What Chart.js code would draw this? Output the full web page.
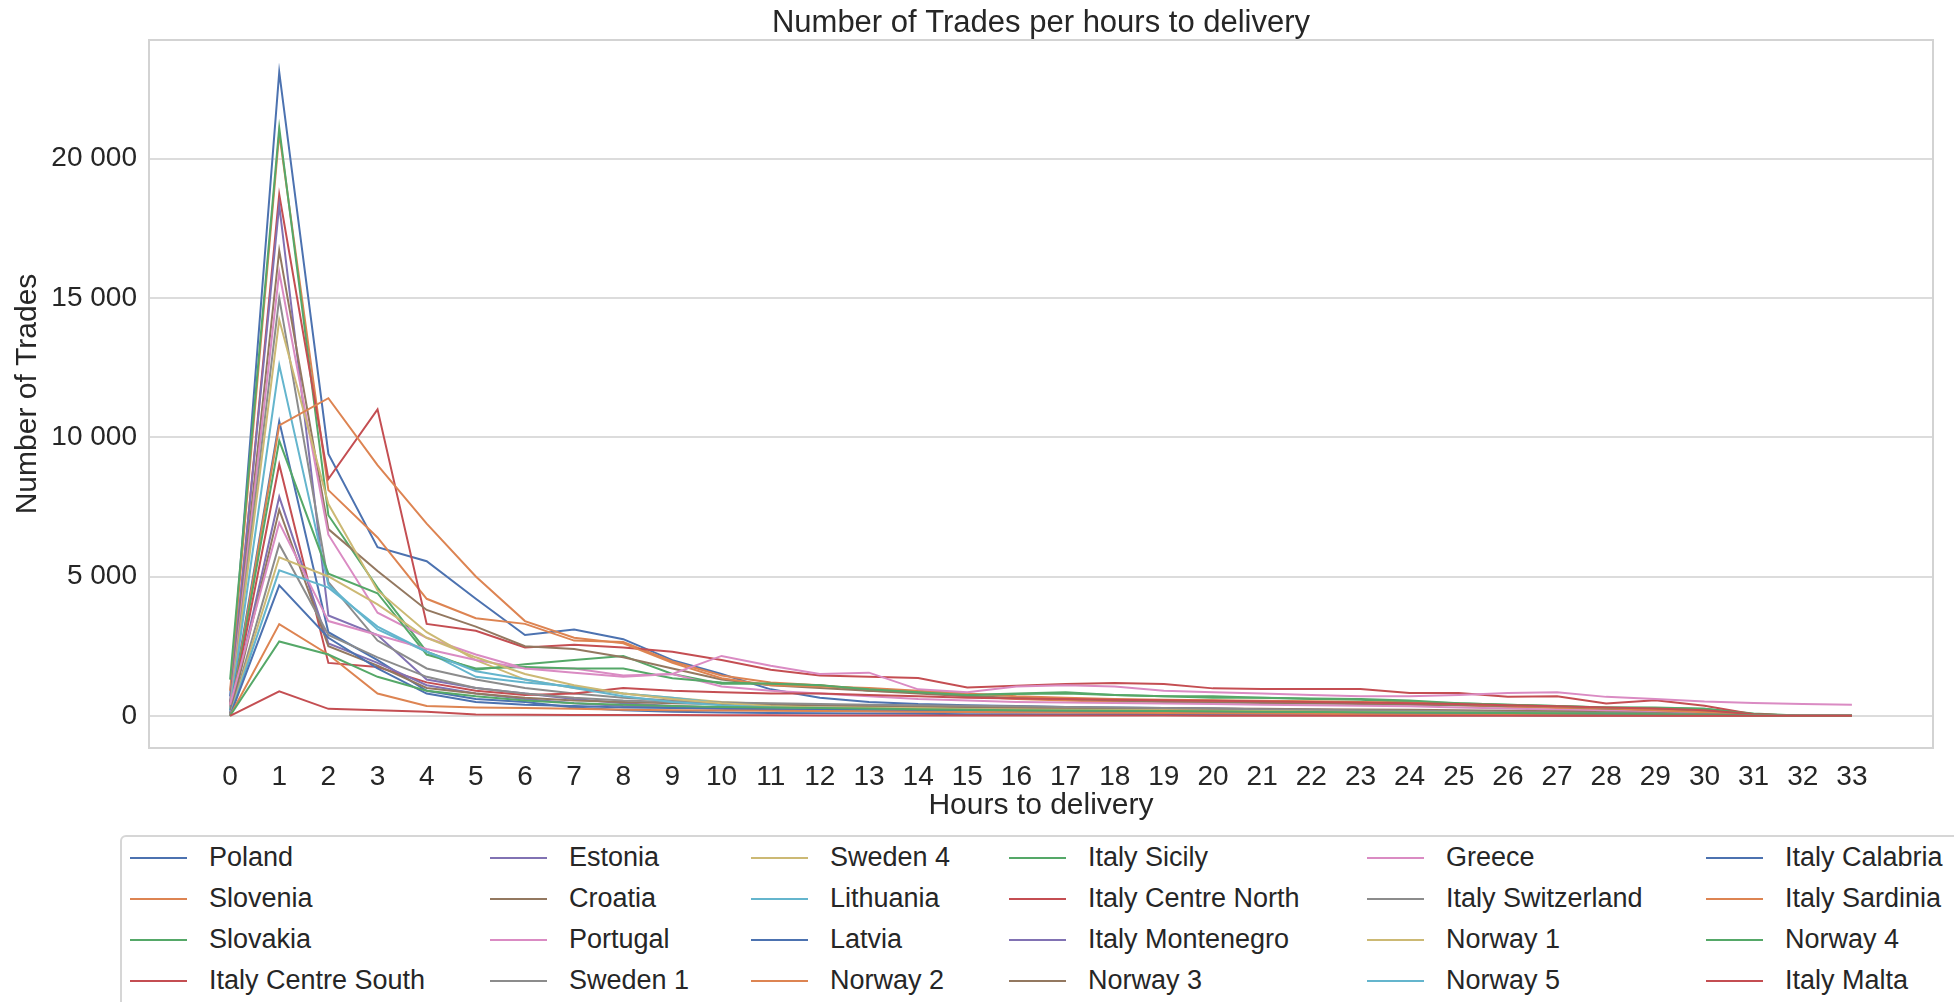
<!DOCTYPE html>
<html>
<head>
<meta charset="utf-8">
<title>Number of Trades per hours to delivery</title>
<script src="https://cdn.jsdelivr.net/npm/chart.js@4.4.0/dist/chart.umd.min.js"></script>
<style>
  html, body { margin: 0; padding: 0; background: #fff; }
  #wrap { position: relative; width: 1954px; height: 1002px; overflow: hidden; }
  #chart { position: absolute; left: 0; top: 0; }
  #legend {
    position: absolute; left: 120px; top: 835px; width: 1900px; height: 260px;
    border: 2px solid #d6d6d6; border-radius: 6px; box-sizing: border-box;
    font-family: "Liberation Sans", Arial, sans-serif; font-size: 27px; color: #262626;
  }
  #legend .grid {
    display: grid; grid-template-columns: 360px 261px 258px 358px 339px 300px;
    grid-template-rows: repeat(4, 41px); grid-auto-flow: column; padding-left: 8px;
  }
  #legend .item { display: flex; align-items: center; white-space: nowrap; }
  #legend .sw { display: inline-block; width: 57px; height: 2px; margin-right: 22px; }
</style>
</head>
<body>
<div id="wrap">
  <canvas id="chart" width="1954" height="830"></canvas>
  <div id="legend"><div class="grid" id="legendGrid"></div></div>
</div>
<script>
// hours to delivery (x axis)
const hours = [0, 1, 2, 3, 4, 5, 6, 7, 8, 9, 10, 11, 12, 13, 14, 15, 16,
   17, 18, 19, 20, 21, 22, 23, 24, 25, 26, 27, 28, 29, 30, 31, 32, 33];
const yTicks = [0, 5000, 10000, 15000, 20000];

const countries = ['Poland', 'Slovenia', 'Slovakia', 'Italy Centre South', 'Estonia', 'Croatia',
   'Portugal', 'Sweden 1', 'Sweden 4', 'Lithuania', 'Latvia', 'Norway 2', 'Italy Sicily',
   'Italy Centre North', 'Italy Montenegro', 'Norway 3', 'Greece', 'Italy Switzerland',
   'Norway 1', 'Norway 5', 'Italy Calabria', 'Italy Sardinia', 'Norway 4', 'Italy Malta'];

// number of trades per hour
const poland = [700, 23100, 9400, 6050, 5550, 4200, 2900, 3100, 2750, 2000, 1500, 950, 650, 500, 420, 380, 350, 320, 300, 280, 260, 240, 220, 200, 180, 160, 140, 120, 100, 80, 50, 20, 0, 0];
const slovenia = [900, 20900, 8100, 6400, 4200, 3500, 3300, 2700, 2650, 1950, 1450, 1200, 1100, 950, 850, 700, 600, 550, 500, 520, 540, 500, 480, 450, 420, 380, 320, 280, 220, 180, 120, 40, 0, 0];
const slovakia = [1300, 21100, 7200, 4600, 2300, 1650, 1850, 2000, 2150, 1500, 1150, 1150, 1100, 900, 850, 750, 800, 850, 750, 700, 650, 650, 600, 580, 500, 450, 400, 350, 300, 280, 250, 80, 0, 0];
const italyCentreSouth = [300, 18710, 8500, 11000, 3300, 3050, 2450, 2550, 2450, 2300, 2000, 1650, 1450, 1400, 1360, 1020, 1080, 1140, 1180, 1140, 985, 960, 960, 960, 820, 820, 680, 700, 440, 560, 360, 60, 0, 0];
const estonia = [500, 18330, 3600, 2900, 1300, 1000, 800, 600, 450, 350, 300, 250, 220, 200, 180, 160, 150, 140, 130, 120, 110, 100, 90, 80, 70, 60, 50, 40, 30, 20, 10, 0, 0, 0];
const croatia = [400, 16700, 6700, 5200, 3800, 3200, 2500, 2400, 2100, 1700, 1300, 1100, 1000, 900, 800, 700, 650, 600, 550, 500, 480, 460, 440, 420, 400, 380, 350, 330, 250, 220, 150, 50, 0, 0];
const portugal = [300, 15920, 6500, 3700, 2800, 2200, 1700, 1700, 1450, 1500, 1050, 900, 800, 700, 600, 550, 500, 480, 460, 440, 420, 400, 380, 360, 340, 300, 260, 220, 180, 140, 100, 30, 0, 0];
const sweden1 = [200, 15000, 4800, 2700, 1700, 1300, 1000, 800, 650, 550, 450, 400, 380, 350, 330, 300, 280, 260, 240, 220, 200, 190, 180, 170, 150, 130, 110, 90, 70, 50, 30, 10, 0, 0];
const sweden4 = [200, 14220, 7600, 4500, 3000, 2000, 1300, 1000, 800, 650, 500, 420, 380, 350, 320, 300, 280, 260, 240, 230, 220, 210, 200, 190, 170, 150, 120, 100, 80, 60, 40, 10, 0, 0];
const lithuania = [200, 12590, 4700, 3100, 2300, 1400, 1200, 1050, 800, 650, 450, 350, 300, 260, 230, 200, 180, 160, 150, 140, 130, 120, 110, 100, 90, 80, 70, 60, 50, 40, 20, 0, 0, 0];
const latvia = [100, 10570, 3000, 2000, 900, 600, 500, 300, 200, 150, 120, 100, 90, 80, 70, 60, 55, 50, 45, 40, 35, 30, 28, 25, 22, 20, 18, 15, 12, 10, 5, 0, 0, 0];
const norway2 = [0, 10420, 11400, 9000, 6900, 5000, 3400, 2800, 2600, 1900, 1350, 1100, 1050, 1000, 900, 800, 700, 650, 600, 580, 560, 540, 520, 500, 470, 430, 380, 330, 270, 200, 130, 40, 0, 0];
const italySicily = [0, 9880, 5100, 4400, 2200, 1700, 1750, 1700, 1700, 1350, 1200, 1150, 1100, 950, 850, 750, 780, 800, 750, 700, 700, 650, 620, 600, 550, 450, 400, 350, 300, 300, 250, 60, 0, 0];
const italyCentreNorth = [0, 9020, 1900, 1750, 1200, 900, 750, 800, 1000, 900, 850, 800, 800, 750, 700, 650, 620, 600, 580, 560, 540, 520, 500, 480, 450, 420, 380, 340, 300, 260, 200, 60, 0, 0];
const italyMontenegro = [0, 7860, 2600, 1900, 1100, 800, 600, 450, 350, 300, 250, 200, 180, 160, 150, 140, 130, 120, 110, 100, 90, 80, 70, 60, 50, 40, 30, 20, 15, 10, 5, 0, 0, 0];
const norway3 = [0, 7400, 2500, 1800, 1000, 800, 650, 550, 500, 450, 420, 400, 380, 360, 340, 320, 300, 290, 280, 270, 260, 250, 240, 230, 220, 200, 180, 160, 130, 100, 60, 20, 0, 0];
const greece = [400, 6930, 3400, 2900, 2400, 2000, 1700, 1550, 1400, 1500, 2150, 1800, 1500, 1550, 950, 850, 1050, 1100, 1050, 900, 850, 800, 750, 700, 700, 750, 820, 850, 680, 600, 510, 460, 420, 400];
const italySwitzerland = [0, 6160, 2900, 2100, 1400, 1000, 800, 650, 550, 500, 480, 450, 420, 400, 380, 360, 340, 320, 300, 280, 260, 240, 220, 200, 180, 160, 140, 120, 100, 80, 50, 20, 0, 0];
const norway1 = [0, 5690, 5000, 4000, 2800, 2100, 1500, 1100, 800, 600, 450, 350, 300, 280, 260, 240, 220, 200, 190, 180, 170, 160, 150, 140, 130, 120, 100, 80, 60, 40, 20, 0, 0, 0];
const norway5 = [0, 5220, 4600, 3200, 2300, 1600, 1300, 1000, 700, 500, 380, 300, 250, 220, 200, 180, 160, 150, 140, 130, 120, 110, 100, 90, 80, 70, 60, 50, 40, 30, 15, 0, 0, 0];
const italyCalabria = [0, 4680, 2800, 1700, 800, 500, 400, 350, 300, 280, 260, 240, 220, 200, 190, 180, 170, 160, 150, 140, 130, 120, 110, 100, 90, 80, 70, 60, 50, 40, 20, 0, 0, 0];
const italySardinia = [0, 3290, 2200, 800, 350, 300, 280, 250, 220, 200, 190, 180, 170, 160, 150, 140, 130, 120, 110, 100, 90, 80, 70, 60, 50, 40, 30, 20, 15, 10, 5, 0, 0, 0];
const norway4 = [0, 2670, 2200, 1400, 900, 700, 550, 450, 400, 350, 320, 300, 280, 260, 240, 220, 200, 190, 180, 170, 160, 150, 140, 130, 120, 110, 100, 90, 80, 60, 40, 10, 0, 0];
const italyMalta = [0, 880, 250, 200, 150, 50, 40, 30, 30, 25, 20, 20, 15, 15, 10, 10, 10, 10, 10, 10, 5, 5, 5, 5, 5, 5, 5, 5, 5, 5, 0, 0, 0, 0];

const seriesValues = [poland, slovenia, slovakia, italyCentreSouth, estonia, croatia,
   portugal, sweden1, sweden4, lithuania, latvia, norway2, italySicily,
   italyCentreNorth, italyMontenegro, norway3, greece, italySwitzerland,
   norway1, norway5, italyCalabria, italySardinia, norway4, italyMalta];

// seaborn "deep" palette, cycled
const palette = ['#4C72B0', '#DD8452', '#55A868', '#C44E52', '#8172B3',
   '#937860', '#DA8BC3', '#8C8C8C', '#CCB974', '#64B5CD'];

const FONT = '"Liberation Sans", Arial, sans-serif';
const TEXT = '#262626';
const TITLE = 'Number of Trades per hours to delivery';

function spaced(v) {
   return String(v).replace(/\B(?=(\d{3})+(?!\d))/g, ' ');
}

// light frame round the plot area
const plotFrame = {
   id: 'plotFrame',
   afterDatasetsDraw(chart) {
      const a = chart.chartArea;
      const ctx = chart.ctx;
      ctx.save();
      ctx.strokeStyle = '#d3d3d3';
      ctx.lineWidth = 2;
      ctx.strokeRect(a.left, a.top, a.right - a.left, a.bottom - a.top);
      ctx.restore();
   }
};

// title centred over the plot area (matplotlib style), not the whole canvas
const axesTitle = {
   id: 'axesTitle',
   afterDraw(chart) {
      const a = chart.chartArea;
      const ctx = chart.ctx;
      ctx.save();
      ctx.fillStyle = TEXT;
      ctx.font = '31px ' + FONT;
      ctx.textAlign = 'center';
      ctx.textBaseline = 'middle';
      ctx.fillText(TITLE, (a.left + a.right) / 2, 23);
      ctx.restore();
   }
};

const datasets = countries.map((name, i) => ({
   label: name,
   data: hours.map((h, j) => ({ x: h, y: seriesValues[i][j] })),
   borderColor: palette[i % palette.length],
   backgroundColor: palette[i % palette.length],
   borderWidth: 2,
   pointRadius: 0,
   tension: 0,
   fill: false,
   order: countries.length - i
}));

const ctx = document.getElementById('chart').getContext('2d');
const myChart = new Chart(ctx, {
   type: 'line',
   data: { datasets: datasets },
   plugins: [plotFrame, axesTitle],
   options: {
      responsive: false,
      animation: false,
      layout: { padding: { left: 0, right: 21, top: 40, bottom: 0 } },
      plugins: {
         legend: { display: false },
         tooltip: { enabled: false },
         title: { display: false }
      },
      scales: {
         x: {
            type: 'linear',
            min: -1.65,
            max: 34.65,
            afterBuildTicks: s => { s.ticks = hours.map(h => ({ value: h })); },
            afterFit: s => { s.height = 82; },
            grid: { display: false, drawTicks: false },
            border: { display: false },
            ticks: {
               autoSkip: false, maxRotation: 0, padding: 12,
               color: TEXT, font: { family: FONT, size: 28 }
            },
            title: {
               display: true, text: 'Hours to delivery', color: TEXT,
               font: { family: FONT, size: 30 }, padding: { top: 0, bottom: 6 }
            }
         },
         y: {
            min: -1155,
            max: 24255,
            afterBuildTicks: s => { s.ticks = yTicks.map(v => ({ value: v })); },
            afterFit: s => { s.width = 149; },
            grid: { color: '#dcdcdc', lineWidth: 2, drawTicks: false },
            border: { display: false },
            ticks: {
               padding: 12, color: TEXT, font: { family: FONT, size: 28 },
               callback: v => spaced(v)
            },
            title: {
               display: true, text: 'Number of Trades', color: TEXT,
               font: { family: FONT, size: 30 }, padding: { top: 10, bottom: 0 }
            }
         }
      }
   }
});

// legend laid out in columns, like the original
const grid = document.getElementById('legendGrid');
myChart.data.datasets.forEach(ds => {
   const item = document.createElement('div');
   item.className = 'item';
   const sw = document.createElement('span');
   sw.className = 'sw';
   sw.style.background = ds.borderColor;
   item.appendChild(sw);
   item.appendChild(document.createTextNode(ds.label));
   grid.appendChild(item);
});
</script>
</body>
</html>
